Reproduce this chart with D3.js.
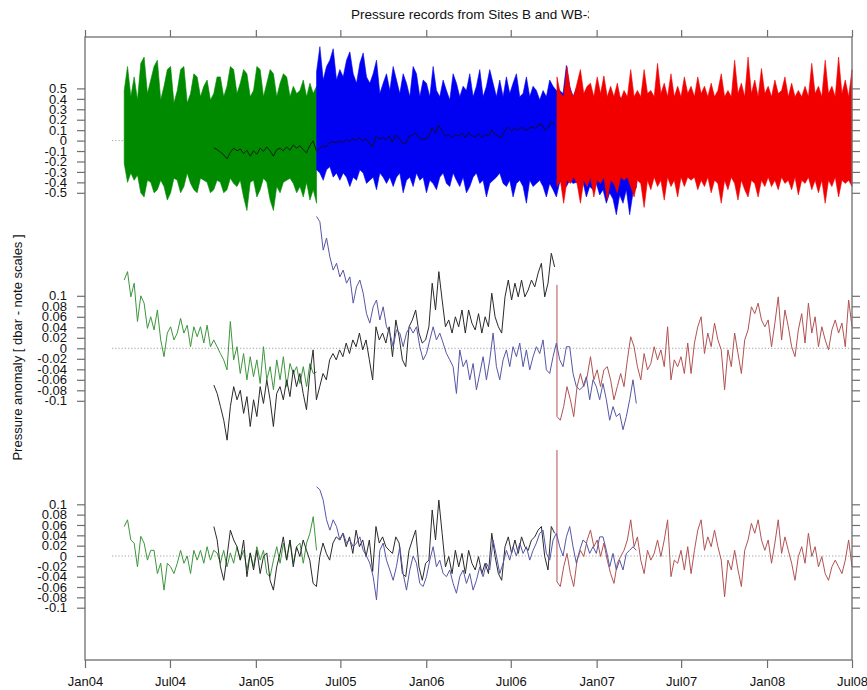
<!DOCTYPE html>
<html>
<head>
<meta charset="utf-8">
<script src="https://cdn.jsdelivr.net/npm/d3@7"></script>
<style>
  body { margin: 0; background: #fff; }
  svg { display: block; }
  text { font-family: "Liberation Sans", Arial, Helvetica, sans-serif; fill: #111; }
</style>
</head>
<body>
<svg id="chart" width="867" height="690"></svg>
<script>
// ---------------- axis labels ----------------
const titleText = "Pressure records from Sites B and WB-3";
const yLabelText = "Pressure anomaly [ dbar - note scales ]";
const xTickDates = ["2004-01-01","2004-07-01","2005-01-01","2005-07-01","2006-01-01",
                    "2006-07-01","2007-01-01","2007-07-01","2008-01-01","2008-07-01"];
const xTickLabels = ["Jan04","Jul04","Jan05","Jul05","Jan06","Jul06","Jan07","Jul07","Jan08","Jul08"];
const rawTicks = [0.5,0.4,0.3,0.2,0.1,0,-0.1,-0.2,-0.3,-0.4,-0.5];
const rawTickLabels = ["0.5","0.4","0.3","0.2","0.1","0","-0.1","-0.2","-0.3","-0.4","-0.5"];
const fineTicks = [0.1,0.08,0.06,0.04,0.02,0,-0.02,-0.04,-0.06,-0.08,-0.1];
const fineTickLabels = ["0.1","0.08","0.06","0.04","0.02","0","-0.02","-0.04","-0.06","-0.08","-0.1"];

// ---------------- record spans ----------------
const greenSpan = ["2004-03-25", "2005-05-11"];
const blackSpan = ["2004-10-03", "2006-10-03"];
const blueSpan  = ["2005-05-11", "2007-03-27"];
const redSpan   = ["2006-10-08", "2008-07-01"];

// ---------------- raw records: weekly tidal envelopes (dbar) ----------------
const greenUpper = [0.48,0.71,0.42,0.61,0.39,0.74,0.80,0.45,0.58,0.71,0.77,0.39,0.52,0.68,0.71,0.36,0.48,0.68,0.71,0.36,
  0.45,0.64,0.61,0.42,0.52,0.58,0.39,0.45,0.61,0.61,0.42,0.52,0.71,0.68,0.45,0.55,0.68,0.64,0.42,0.48,
  0.71,0.68,0.42,0.55,0.68,0.64,0.42,0.55,0.64,0.61,0.42,0.52,0.45,0.48,0.58,0.42,0.55,0.45,0.52];
const greenLower = [-0.22,-0.40,-0.31,-0.38,-0.33,-0.50,-0.54,-0.38,-0.40,-0.50,-0.47,-0.38,-0.44,-0.57,-0.50,-0.36,-0.38,-0.50,-0.44,-0.31,
  -0.41,-0.47,-0.50,-0.36,-0.38,-0.40,-0.50,-0.47,-0.38,-0.40,-0.50,-0.47,-0.36,-0.41,-0.44,-0.38,-0.54,-0.67,-0.40,-0.38,
  -0.54,-0.47,-0.36,-0.40,-0.57,-0.67,-0.44,-0.50,-0.40,-0.38,-0.36,-0.41,-0.50,-0.44,-0.54,-0.40,-0.57,-0.47,-0.60];
const blueUpper = [0.66,0.90,0.58,0.71,0.77,0.88,0.58,0.68,0.61,0.77,0.85,0.64,0.55,0.74,0.84,0.61,0.55,0.64,0.77,0.45,
  0.55,0.64,0.48,0.71,0.58,0.45,0.64,0.55,0.42,0.71,0.64,0.42,0.58,0.55,0.42,0.71,0.48,0.42,0.58,0.48,
  0.39,0.64,0.55,0.42,0.52,0.48,0.64,0.42,0.52,0.68,0.42,0.52,0.68,0.55,0.42,0.58,0.42,0.61,0.45,0.55,
  0.64,0.42,0.45,0.61,0.42,0.52,0.48,0.39,0.48,0.42,0.58,0.52,0.48,
  0.48,0.45,0.72,0.52,0.42,0.50,0.40,0.45,0.38,0.42,0.40,0.45,0.38,0.40,0.42,0.38,0.40,0.36,0.42,0.38,
  0.40,0.36,0.38,0.35];
const blueLower = [-0.28,-0.31,-0.38,-0.28,-0.25,-0.35,-0.31,-0.38,-0.31,-0.35,-0.44,-0.35,-0.38,-0.28,-0.31,-0.41,-0.38,-0.35,-0.47,-0.31,
  -0.35,-0.41,-0.35,-0.44,-0.35,-0.31,-0.50,-0.38,-0.35,-0.44,-0.31,-0.38,-0.35,-0.50,-0.38,-0.41,-0.47,-0.35,-0.31,-0.41,
  -0.44,-0.31,-0.38,-0.44,-0.35,-0.50,-0.44,-0.35,-0.31,-0.41,-0.38,-0.54,-0.41,-0.38,-0.35,-0.31,-0.41,-0.44,-0.38,-0.54,
  -0.41,-0.38,-0.44,-0.60,-0.38,-0.44,-0.41,-0.38,-0.44,-0.54,-0.41,-0.47,-0.54,
  -0.40,-0.38,-0.44,-0.38,-0.41,-0.40,-0.44,-0.40,-0.54,-0.44,-0.47,-0.41,-0.52,-0.47,-0.60,-0.50,-0.56,-0.71,-0.52,-0.60,
  -0.47,-0.71,-0.50,-0.45];
const redUpper = [0.61,0.45,0.42,0.71,0.48,0.42,0.55,0.68,0.45,0.52,0.55,0.42,0.61,0.45,0.62,0.42,0.52,0.42,0.55,0.39,
  0.48,0.42,0.68,0.42,0.48,0.42,0.68,0.45,0.48,0.42,0.74,0.45,0.55,0.42,0.64,0.42,0.52,0.42,0.61,0.45,
  0.52,0.42,0.61,0.45,0.52,0.42,0.55,0.42,0.48,0.64,0.42,0.48,0.42,0.77,0.45,0.55,0.42,0.80,0.45,0.58,
  0.42,0.69,0.45,0.52,0.42,0.58,0.45,0.48,0.61,0.42,0.55,0.42,0.48,0.42,0.52,0.42,0.74,0.45,0.52,0.42,
  0.77,0.45,0.52,0.42,0.80,0.45,0.58,0.42,0.68];
const redLower = [-0.44,-0.38,-0.60,-0.38,-0.41,-0.35,-0.41,-0.60,-0.38,-0.44,-0.35,-0.54,-0.38,-0.41,-0.35,-0.57,-0.38,-0.41,-0.50,-0.35,
  -0.38,-0.35,-0.44,-0.54,-0.38,-0.41,-0.64,-0.38,-0.47,-0.35,-0.44,-0.38,-0.57,-0.35,-0.44,-0.38,-0.54,-0.35,-0.44,-0.35,
  -0.38,-0.35,-0.47,-0.38,-0.44,-0.35,-0.50,-0.38,-0.41,-0.60,-0.38,-0.47,-0.35,-0.41,-0.57,-0.38,-0.47,-0.54,-0.38,-0.41,
  -0.54,-0.38,-0.44,-0.35,-0.44,-0.38,-0.47,-0.35,-0.41,-0.38,-0.47,-0.35,-0.52,-0.38,-0.41,-0.35,-0.47,-0.38,-0.50,-0.38,
  -0.60,-0.38,-0.44,-0.35,-0.54,-0.38,-0.41,-0.38,-0.44];

// ---------------- de-tided weekly series (dbar) ----------------
const greenDetided = [0.130,0.146,0.098,0.124,0.051,0.100,0.086,0.038,0.060,0.035,0.073,0.016,-0.016,0.029,0.041,0.016,0.029,0.057,0.029,0.044,
  0.003,0.041,0.022,0.041,0.010,0.044,0.003,0.016,0.003,-0.010,-0.022,-0.041,0.051,-0.022,0.003,-0.048,-0.010,-0.060,-0.016,-0.054,
  -0.022,-0.067,0.003,-0.060,-0.035,-0.079,-0.022,-0.060,-0.016,-0.073,-0.029,-0.048,-0.035,-0.067,-0.035,-0.073,-0.029,-0.048,-0.045];
const blackDetided = [-0.070,-0.086,-0.111,-0.137,-0.175,-0.111,-0.073,-0.098,-0.080,-0.124,-0.092,-0.149,-0.098,-0.130,-0.073,-0.105,-0.060,-0.098,-0.149,-0.086,
  -0.073,-0.098,-0.060,-0.092,-0.041,-0.073,-0.048,-0.086,-0.117,-0.048,-0.003,-0.098,-0.073,-0.048,-0.060,-0.022,-0.010,-0.022,-0.003,-0.016,
  0.010,-0.010,0.016,0.003,0.029,-0.003,0.016,-0.022,-0.060,0.041,0.016,0.029,0.010,0.041,-0.016,0.054,0.022,-0.022,-0.035,0.041,
  0.054,0.073,0.029,0.010,0.016,0.041,0.124,0.073,0.146,0.092,0.041,0.054,0.029,0.060,0.041,0.073,0.029,0.073,0.048,0.035,
  0.066,0.029,0.060,0.041,0.105,0.060,0.041,0.029,0.098,0.130,0.092,0.124,0.098,0.130,0.098,0.111,0.130,0.117,0.143,0.162,
  0.098,0.124,0.181,0.155];
const blueDetided = [0.251,0.241,0.187,0.210,0.174,0.149,0.162,0.136,0.149,0.124,0.136,0.086,0.117,0.130,0.105,0.066,0.048,0.079,0.092,0.054,
  0.079,0.041,0.029,0.003,0.035,0.029,0.003,0.029,0.041,0.029,0.041,0.003,-0.022,-0.010,0.016,0.041,0.016,0.029,0.010,-0.010,
  -0.022,-0.035,-0.086,-0.003,-0.035,-0.022,-0.060,-0.029,-0.079,-0.048,-0.016,-0.060,-0.022,0.029,-0.035,-0.060,-0.022,-0.003,-0.035,0.003,
  -0.016,0.010,-0.035,-0.003,-0.041,-0.016,0.003,-0.010,0.016,-0.041,-0.048,-0.016,0.010,-0.022,-0.035,0.003,0.003,-0.048,-0.073,-0.079,
  -0.073,-0.054,-0.098,-0.060,-0.073,-0.098,-0.067,-0.098,-0.137,-0.111,-0.130,-0.124,-0.155,-0.130,-0.098,-0.060,-0.105];
const redDetided = [-0.130,-0.137,-0.111,-0.073,-0.098,-0.130,-0.073,-0.048,-0.073,-0.054,-0.016,-0.060,-0.041,-0.073,-0.041,-0.035,-0.060,-0.098,-0.073,-0.048,
  -0.073,-0.022,0.022,0.003,-0.035,-0.060,-0.010,-0.041,-0.029,0.003,-0.022,-0.003,-0.035,0.041,-0.060,-0.022,-0.035,-0.016,-0.048,0.010,
  -0.048,0.010,0.041,0.060,-0.010,0.029,0.003,0.048,0.016,-0.003,-0.079,-0.003,-0.035,0.029,-0.010,-0.048,0.016,0.035,0.079,0.066,
  0.086,0.054,0.041,0.054,0.003,0.048,0.098,0.016,0.073,0.041,0.003,-0.016,0.035,0.066,0.010,0.086,0.029,0.060,0.003,0.041,
  0.016,-0.003,0.035,0.054,0.029,0.048,0.003,0.092,0.041];
const redDetidedSpike = 0.121;

// ---------------- de-tided and de-trended weekly series (dbar) ----------------
const greenResidual = [0.057,0.070,0.031,0.025,-0.021,0.038,0.025,-0.008,0.011,0.011,-0.034,-0.014,-0.066,-0.014,-0.021,-0.034,-0.014,0.011,-0.014,0.000,
  -0.034,0.011,-0.008,0.011,-0.014,0.018,-0.008,0.011,0.006,-0.014,0.011,-0.021,0.006,-0.014,0.018,-0.008,0.011,-0.027,0.006,-0.021,
  0.018,-0.008,0.011,-0.034,-0.040,-0.008,0.018,-0.014,0.025,-0.008,0.031,-0.014,0.018,0.025,-0.014,0.025,0.044,0.076,0.011];
const blackResidual = [0.057,0.031,-0.021,-0.047,0.000,0.050,0.031,0.018,-0.008,0.031,-0.040,0.006,-0.027,0.011,-0.034,-0.001,0.006,-0.047,-0.066,-0.021,
  0.005,0.037,-0.008,0.031,-0.021,0.018,-0.001,0.031,0.011,-0.008,-0.053,-0.059,-0.001,0.025,0.005,-0.008,0.025,0.037,0.031,0.044,
  0.018,0.037,0.005,0.050,0.018,0.031,-0.001,0.031,-0.030,0.057,0.025,0.037,0.018,0.011,0.005,0.037,0.025,-0.034,-0.040,0.011,
  0.031,0.050,-0.021,-0.047,-0.014,-0.008,0.089,0.031,0.108,0.044,-0.021,-0.001,-0.034,0.011,-0.021,0.005,-0.034,0.011,-0.014,-0.027,
  -0.001,-0.034,-0.014,-0.034,0.044,-0.001,-0.034,-0.047,0.018,0.037,0.005,0.031,0.005,0.037,0.018,0.011,0.031,0.037,0.050,0.057,
  -0.001,-0.027,0.057,0.044];
const blueResidual = [0.134,0.128,0.108,0.070,0.050,0.070,0.057,0.031,0.044,0.025,0.031,0.018,0.025,0.037,0.011,0.000,-0.014,-0.040,-0.085,0.011,
  0.025,-0.008,-0.027,-0.047,-0.020,0.018,-0.034,-0.066,-0.027,0.000,-0.014,-0.053,-0.059,-0.040,-0.008,0.018,-0.021,-0.008,-0.034,-0.040,
  -0.027,-0.053,-0.072,-0.040,-0.027,-0.053,-0.034,-0.066,-0.047,-0.021,-0.040,-0.014,-0.027,0.031,0.000,-0.034,-0.014,0.011,-0.008,0.018,
  0.000,0.025,0.005,0.018,-0.008,0.011,0.025,0.044,0.050,0.005,-0.008,0.031,0.044,0.018,0.000,0.037,0.057,0.018,-0.014,0.011,
  0.031,0.025,0.005,0.018,0.005,0.037,0.037,0.011,-0.021,0.005,-0.027,-0.008,-0.027,0.005,0.011,0.018,0.011];
const redResidual = [-0.050,-0.059,-0.021,0.005,-0.034,-0.059,-0.008,0.011,-0.001,0.031,0.050,0.018,0.031,-0.001,0.025,-0.008,-0.034,-0.053,-0.014,-0.001,
  0.011,0.031,0.070,0.018,0.037,-0.008,-0.034,0.011,-0.008,0.005,0.031,-0.001,0.031,0.070,-0.040,-0.008,-0.014,0.011,-0.027,0.018,
  -0.034,0.011,0.050,0.070,0.011,0.037,0.018,0.050,0.018,-0.008,-0.079,-0.008,-0.027,0.011,-0.027,-0.059,0.011,0.031,0.063,0.044,
  0.070,0.031,0.011,0.031,-0.014,0.025,0.070,0.005,0.037,0.011,-0.014,-0.047,-0.001,0.018,-0.014,0.044,-0.001,0.018,-0.021,-0.001,
  -0.034,-0.047,-0.021,-0.008,-0.021,-0.034,-0.008,0.031,-0.021];
const redResidualSpike = 0.205;

// ---------------- colours ----------------
const fillColors = { green: "#008a00", blue: "#0000f2", red: "#f20000" };
const lineColors = { green: "#3d963d", black: "#2a2a2a", blue: "#5656a6", red: "#b25252" };

// ---------------- scales ----------------
const parse = d3.utcParse("%Y-%m-%d");
const svg = d3.select("#chart");
const frameLeft = 85, frameRight = 852, frameTop = 37, frameBottom = 660;

const x = d3.scaleUtc().domain([parse("2004-01-01"), parse("2008-07-01")]).range([frameLeft, frameRight]);
const yRaw = d3.scaleLinear().domain([-0.5, 0.5]).range([192.8, 88.4]);
const yMid = d3.scaleLinear().domain([-0.1, 0.1]).range([400.8, 295.8]);
const yLow = d3.scaleLinear().domain([-0.1, 0.1]).range([607.7, 504.3]);

// place n samples evenly through a record's span
function timeline(span, n) {
  const t = d3.scaleLinear().domain([0, n - 1]).range([parse(span[0]).getTime(), parse(span[1]).getTime()]);
  return d3.range(n).map(i => new Date(t(i)));
}
function series(span, values, spike) {
  const dates = timeline(span, values.length);
  const pts = values.map((v, i) => ({ t: dates[i], v }));
  if (spike !== undefined) pts.unshift({ t: dates[0], v: spike });
  return pts;
}
function band(span, upper, lower) {
  const n = Math.min(upper.length, lower.length);
  const dates = timeline(span, n);
  return d3.range(n).map(i => ({ t: dates[i], hi: upper[i], lo: lower[i] }));
}

const plot = svg.append("g");

// zero reference lines
[yRaw, yMid, yLow].forEach(y => {
  plot.append("line")
    .attr("x1", 112).attr("x2", frameRight)
    .attr("y1", y(0)).attr("y2", y(0))
    .attr("stroke", "#8a8a8a").attr("stroke-width", 0.8)
    .attr("stroke-dasharray", "1.2,2");
});

// ---------------- raw records (tidal band) ----------------
const area = d3.area().x(d => x(d.t)).y0(d => yRaw(d.lo)).y1(d => yRaw(d.hi)).curve(d3.curveLinear);
[["green", greenSpan, greenUpper, greenLower],
 ["blue", blueSpan, blueUpper, blueLower],
 ["red", redSpan, redUpper, redLower]].forEach(([k, span, up, lo]) => {
  plot.append("path")
    .datum(band(span, up, lo))
    .attr("d", area)
    .attr("fill", fillColors[k])
    .attr("stroke", fillColors[k])
    .attr("stroke-width", 0.6)
    .attr("stroke-linejoin", "miter");
});

// low-passed pressure drawn over the raw band
const lineRaw = d3.line().x(d => x(d.t)).y(d => yRaw(d.v));
plot.append("path")
  .datum(series(blackSpan, blackDetided))
  .attr("d", lineRaw)
  .attr("fill", "none").attr("stroke", "#111").attr("stroke-width", 0.9);

// ---------------- de-tided and residual panels ----------------
function drawPanel(y, rec) {
  const line = d3.line().x(d => x(d.t)).y(d => y(d.v));
  rec.forEach(r => {
    plot.append("path")
      .datum(series(r.span, r.values, r.spike))
      .attr("d", line)
      .attr("fill", "none")
      .attr("stroke", lineColors[r.key])
      .attr("stroke-width", 1)
      .attr("stroke-linejoin", "round");
  });
}
drawPanel(yMid, [
  { key: "green", span: greenSpan, values: greenDetided },
  { key: "black", span: blackSpan, values: blackDetided },
  { key: "red",   span: redSpan,   values: redDetided, spike: redDetidedSpike },
  { key: "blue",  span: blueSpan,  values: blueDetided }
]);
drawPanel(yLow, [
  { key: "green", span: greenSpan, values: greenResidual },
  { key: "black", span: blackSpan, values: blackResidual },
  { key: "red",   span: redSpan,   values: redResidual, spike: redResidualSpike },
  { key: "blue",  span: blueSpan,  values: blueResidual }
]);

// ---------------- frame and axes ----------------
const axisColor = "#6e6e6e";
svg.append("rect")
  .attr("x", frameLeft).attr("y", frameTop)
  .attr("width", frameRight - frameLeft).attr("height", frameBottom - frameTop)
  .attr("fill", "none").attr("stroke", axisColor).attr("stroke-width", 1.3);

const xDates = xTickDates.map(parse);
function styleAxis(g) {
  g.select(".domain").remove();
  g.selectAll(".tick line").attr("stroke", axisColor).attr("stroke-width", 1.2);
  g.selectAll(".tick text").attr("fill", "#111")
    .style("font-family", "'Liberation Sans', Arial, sans-serif");
}

svg.append("g").attr("transform", `translate(0,${frameBottom})`)
  .call(d3.axisBottom(x).tickValues(xDates).tickFormat((d, i) => xTickLabels[i]).tickSize(8).tickPadding(9))
  .call(styleAxis)
  .call(g => g.selectAll(".tick text").style("font-size", "13px"));

svg.append("g").attr("transform", `translate(0,${frameTop})`)
  .call(d3.axisTop(x).tickValues(xDates).tickFormat("").tickSize(7))
  .call(styleAxis);

[[yRaw, rawTicks, rawTickLabels], [yMid, fineTicks, fineTickLabels], [yLow, fineTicks, fineTickLabels]]
  .forEach(([y, ticks, labels]) => {
    svg.append("g").attr("transform", `translate(${frameLeft},0)`)
      .call(d3.axisLeft(y).tickValues(ticks).tickFormat((d, i) => labels[i]).tickSize(8).tickPadding(10))
      .call(styleAxis)
      .call(g => g.selectAll(".tick text").style("font-size", "13px"));
    svg.append("g").attr("transform", `translate(${frameRight},0)`)
      .call(d3.axisRight(y).tickValues(ticks).tickFormat("").tickSize(8))
      .call(styleAxis);
  });

// ---------------- title and axis label ----------------
svg.append("clipPath").attr("id", "titleClip")
  .append("rect").attr("x", 0).attr("y", 0).attr("width", 589).attr("height", 30);
svg.append("text")
  .attr("clip-path", "url(#titleClip)")
  .attr("x", 351).attr("y", 19)
  .style("font-size", "13.5px")
  .text(titleText);

svg.append("text")
  .attr("transform", "translate(22,347.5) rotate(-90)")
  .attr("text-anchor", "middle")
  .style("font-size", "13px")
  .text(yLabelText);
</script>
</body>
</html>
